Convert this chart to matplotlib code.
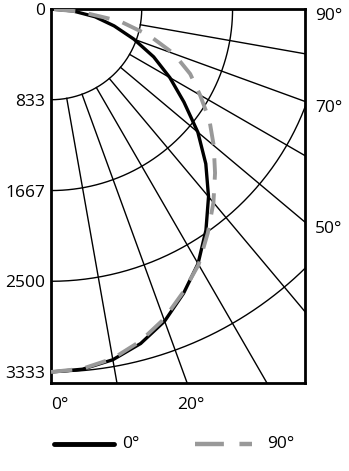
import numpy as np
import matplotlib
matplotlib.use("Agg")
import matplotlib.pyplot as plt
from matplotlib.lines import Line2D
from matplotlib import transforms

plt.rcParams['font.family'] = ['Open Sans', 'DejaVu Sans']

## Data (cd, angle from nadir in degrees)
angles = [0, 5, 10, 15, 20, 25, 30, 35, 40, 45, 50, 55, 60, 65, 70, 75, 80, 85, 90]
curve_0 = [3333, 3320, 3270, 3180, 3050, 2880, 2700, 2480, 2250, 2010,
           1760, 1490, 1260, 1040, 810, 600, 410, 200, 0]
curve_90 = [3333, 3315, 3260, 3160, 3030, 2870, 2710, 2510, 2320, 2130,
            1950, 1775, 1580, 1410, 1200, 930, 640, 260, 0]

rings = [833, 1667, 2500, 3333]
ring_labels = ['833', '1667', '2500', '3333']
spokes = [10, 20, 30, 40, 50, 60, 70, 80]
right_labels = [90, 70, 50]
bottom_labels = [0, 20]
legend_names = ['0°', '90°']

x_max = 2332
y_max = 3434

fig = plt.figure(figsize=(3.49, 4.71), dpi=100)
W, H = 349, 471
ax = fig.add_axes([51 / W, (H - 383) / H, 254 / W, 374 / H])
ax.set_xlim(0, x_max)
ax.set_ylim(-y_max, 0)


def to_xy(r, deg):
    t = np.radians(deg)
    return np.asarray(r) * np.sin(t), -np.asarray(r) * np.cos(t)


# grid rings
t = np.linspace(0, 90, 200)
for r in rings:
    x, y = to_xy(r, t)
    ax.plot(x, y, color='black', lw=1.0, zorder=1)

# spokes from first ring outwards
for a in spokes:
    x, y = to_xy([rings[0], 6000], [a, a])
    ax.plot(x, y, color='black', lw=1.0, zorder=1)

# curves
x, y = to_xy(curve_0, angles)
ax.plot(x, y, color='black', lw=2.4, zorder=3, solid_capstyle='round',
        solid_joinstyle='round')
x, y = to_xy(curve_90, angles)
ax.plot(x, y, color='#999999', lw=2.8, dashes=(5.5, 3.5), zorder=4)

for s in ax.spines.values():
    s.set_linewidth(2.0)

ax.set_xticks([])
ax.set_yticks([0] + [-r for r in rings])
ax.set_yticklabels(['0'] + ring_labels, fontsize=12.5)
ax.tick_params(axis='y', length=0, pad=4)

# right side angle labels
off = transforms.offset_copy(ax.transData, fig=fig, x=10, y=-7, units='dots')
for a in right_labels:
    yy = 0 if a == 90 else -x_max / np.tan(np.radians(a))
    ax.text(x_max, yy, f'{a}°', fontsize=12.5, ha='left', va='center',
            transform=off, clip_on=False)

# bottom angle labels
offb = transforms.offset_copy(ax.transData, fig=fig, x=0, y=-22, units='dots')
for a in bottom_labels:
    xx = y_max * np.tan(np.radians(a))
    ax.text(xx - (0 if a == 0 else 95), -y_max, f'{a}°', fontsize=12.5,
            ha='left', va='center', transform=offb, clip_on=False)

# legend drawn by hand
ly = 1 - 444 / H
fig.add_artist(Line2D([54 / W, 114 / W], [ly, ly], color='black', lw=3.5,
                      solid_capstyle='round'))
fig.text(122 / W, ly, legend_names[0], fontsize=12.5, va='center')
fig.add_artist(Line2D([195 / W, 252 / W], [ly, ly], color='#999999', lw=3.2,
                      dashes=(6.5, 3.5)))
fig.text(267 / W, ly, legend_names[1], fontsize=12.5, va='center')

fig.savefig('out.png', dpi=100)
